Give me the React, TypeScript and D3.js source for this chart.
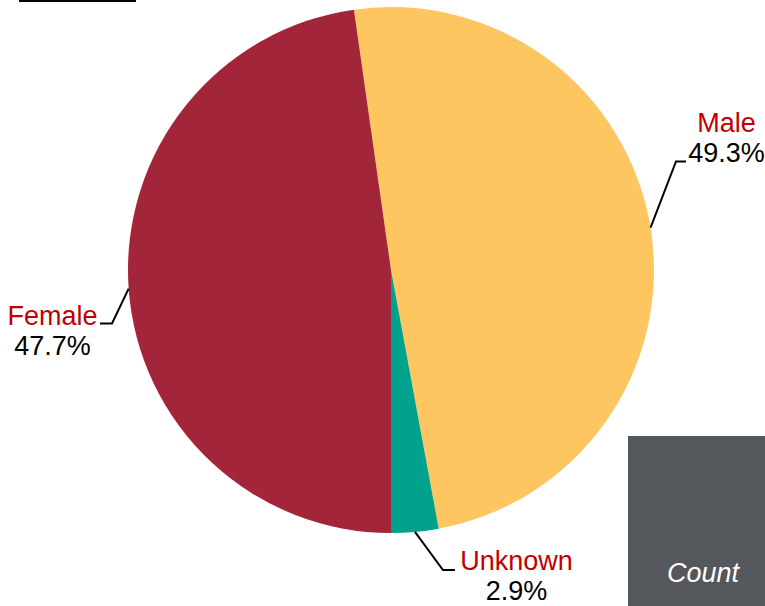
import React from "react";
import * as d3 from "d3";

const categories = ["Male", "Unknown", "Female"];
const values = [49.3, 2.9, 47.7];
const labels = ["49.3%", "2.9%", "47.7%"];
const colors = ["#FEC660", "#00A18D", "#A32539"];

// label layout: elbow point, end of horizontal stroke, text centre x, name baseline
const layout = [
  { ex: 676, ey: 161.5, hx: 686, tx: 726.5, ty: 132 },
  { ex: 443, ey: 570, hx: 455, tx: 516.5, ty: 570 },
  { ex: 112, ey: 323.5, hx: 100, tx: 52.5, ty: 325 },
];

const W = 765;
const H = 606;
const cx = 391;
const cy = 270;
const R = 263;

export default function App() {
  const total = d3.sum(values);
  const start = Math.PI - ((values[0] + values[1]) / total) * 2 * Math.PI;
  const pie = d3
    .pie<number>()
    .sort(null)
    .value((d) => d)
    .startAngle(start)
    .endAngle(start + 2 * Math.PI);
  const arcs = pie(values);
  const arc = d3.arc<d3.PieArcDatum<number>>().innerRadius(0).outerRadius(R);
  const font = "'Liberation Sans', Arial, sans-serif";

  return (
    <svg
      width={W}
      height={H}
      style={{ position: "absolute", left: 0, top: 0, background: "#fff" }}
    >
      <rect x={19} y={0} width={117} height={2} fill="#000" />
      <g transform={`translate(${cx},${cy})`}>
        {arcs.map((a, i) => (
          <path key={i} d={arc(a) || ""} fill={colors[i]} />
        ))}
      </g>
      {arcs.map((a, i) => {
        const mid = (a.startAngle + a.endAngle) / 2;
        const sx = cx + R * Math.sin(mid);
        const sy = cy - R * Math.cos(mid);
        const L = layout[i];
        return (
          <g key={i}>
            <polyline
              points={`${sx},${sy} ${L.ex},${L.ey} ${L.hx},${L.ey}`}
              fill="none"
              stroke="#000"
              strokeWidth={2}
            />
            <text
              x={L.tx}
              y={L.ty}
              textAnchor="middle"
              fontFamily={font}
              fontSize={27}
              fill="#C00000"
            >
              {categories[i]}
            </text>
            <text
              x={L.tx}
              y={L.ty + 30}
              textAnchor="middle"
              fontFamily={font}
              fontSize={27}
              fill="#000"
            >
              {labels[i]}
            </text>
          </g>
        );
      })}
      <rect x={628} y={436} width={140} height={180} fill="#54575B" />
      <text
        x={703}
        y={582}
        textAnchor="middle"
        fontFamily={font}
        fontStyle="italic"
        fontSize={27}
        fill="#fff"
      >
        Count
      </text>
      <text
        x={693}
        y={626}
        fontFamily={font}
        fontStyle="italic"
        fontSize={27}
        fill="#fff"
      >
        Female
      </text>
    </svg>
  );
}
